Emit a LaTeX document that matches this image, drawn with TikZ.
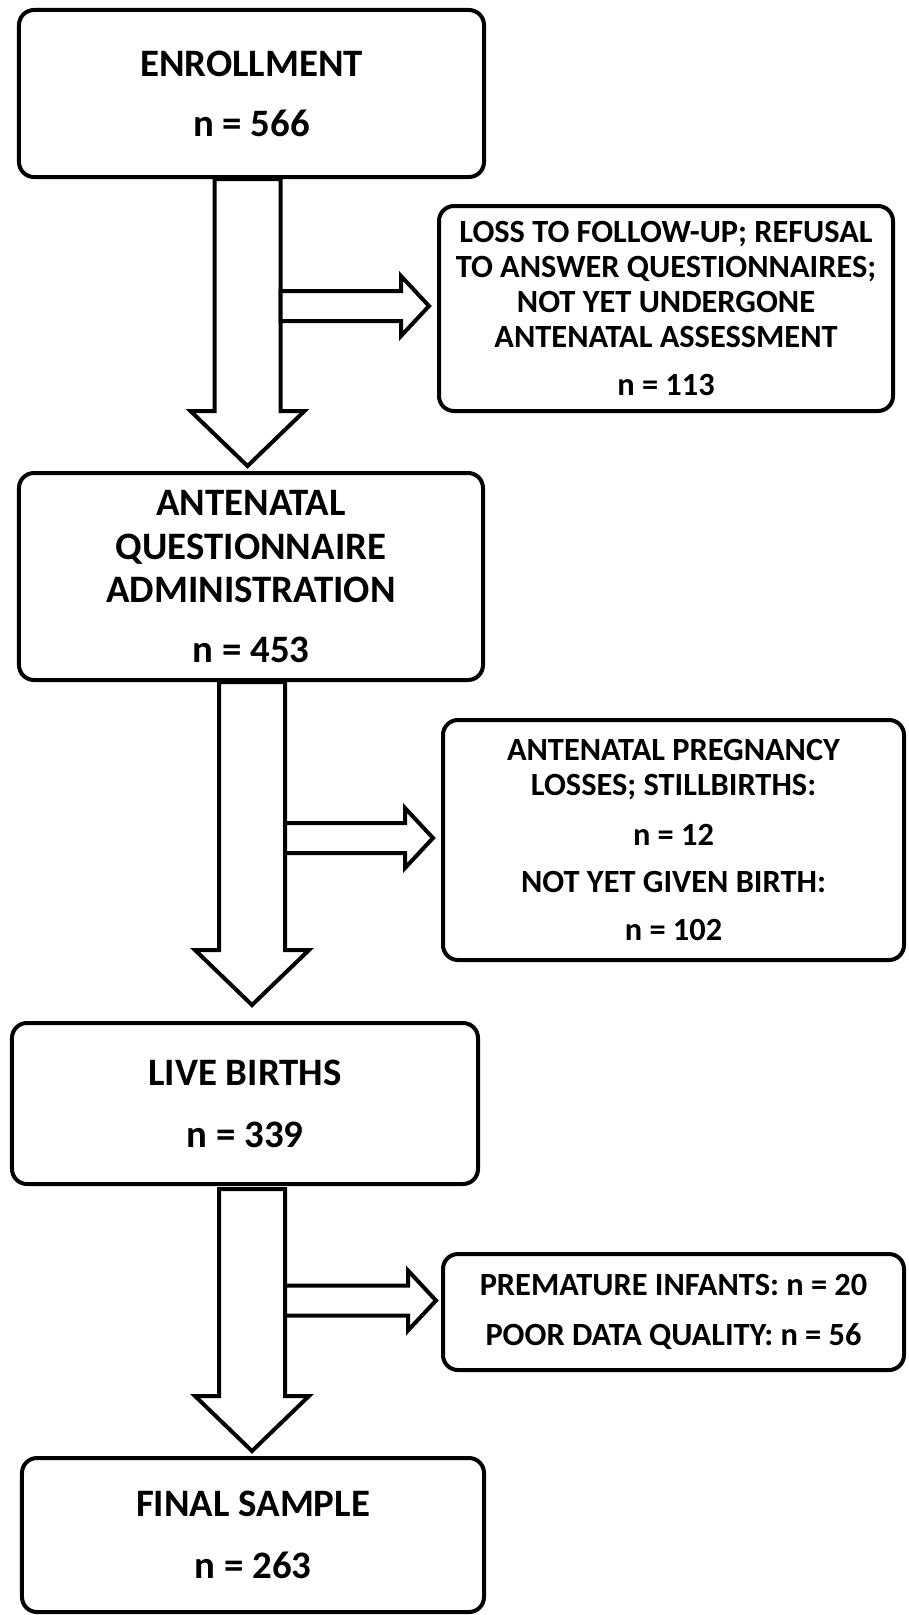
\documentclass[tikz,border=0pt]{standalone}
\usepackage{fontspec}
\setmainfont{Carlito}
\usepackage{tikz}
\usetikzlibrary{calc}

\begin{document}
\begin{tikzpicture}[
    x=1bp, y=-1bp,
    line width=4bp,
    stage/.style={draw,
        rounded corners=15bp,
        align=center,
        inner sep=0pt,
        font=\bfseries\fontsize{39}{43.5}\selectfont},
    exclusion/.style={stage,
        font=\bfseries\fontsize{32.5}{35}\selectfont},
    blockdown/.style={fill=white,
        to path={($(\tikztostart)+(-33,0)$) -- ($(\tikztostart)+(33,0)$)
            -- ($(\tikztostart |- \tikztotarget)+(33,-55)$)
            -- ($(\tikztostart |- \tikztotarget)+(57,-55)$)
            -- (\tikztostart |- \tikztotarget)
            -- ($(\tikztostart |- \tikztotarget)+(-57,-55)$)
            -- ($(\tikztostart |- \tikztotarget)+(-33,-55)$) -- cycle}},
    blockright/.style={fill=white,
        to path={($(\tikztostart)+(0,-15)$)
            -- ($(\tikztotarget |- \tikztostart)+(-28,-15)$)
            -- ($(\tikztotarget |- \tikztostart)+(-28,-30)$)
            -- (\tikztotarget |- \tikztostart)
            -- ($(\tikztotarget |- \tikztostart)+(-28,30)$)
            -- ($(\tikztotarget |- \tikztostart)+(-28,15)$)
            -- ($(\tikztostart)+(0,15)$) -- cycle}}]

\useasboundingbox (0,0) rectangle (908,1615);

% Main stages
\node[stage,
    minimum width=465bp,
    minimum height=167bp] (enroll) at (251.5,93.5)
    {ENROLLMENT\\[16.5bp]n = 566};

\node[stage,
    minimum width=464bp,
    minimum height=207bp] (antenatal) at (251,576.5)
    {ANTENATAL\\QUESTIONNAIRE\\ADMINISTRATION\\[16.5bp]n = 453};

\node[stage,
    minimum width=466bp,
    minimum height=161bp] (live) at (245,1103.5)
    {LIVE BIRTHS\\[18.5bp]n = 339};

\node[stage,
    minimum width=462bp,
    minimum height=154bp] (final) at (253,1535)
    {FINAL SAMPLE\\[18.5bp]n = 263};

% Exclusions
\node[exclusion,
    minimum width=454bp,
    minimum height=205bp] (lost) at (666,308.5)
    {LOSS TO FOLLOW-UP; REFUSAL\\TO ANSWER QUESTIONNAIRES;\\NOT YET UNDERGONE\\ANTENATAL ASSESSMENT\\[13bp]n = 113};

\node[exclusion,
    minimum width=461bp,
    minimum height=240bp] (losses) at (673.5,840)
    {ANTENATAL PREGNANCY\\LOSSES; STILLBIRTHS:\\[15bp]n = 12\\[13bp]NOT YET GIVEN BIRTH:\\[13bp]n = 102};

\node[exclusion,
    minimum width=461bp,
    minimum height=116bp] (excluded) at (673.5,1312)
    {PREMATURE INFANTS: n = 20\\[15bp]POOR DATA QUALITY: n = 56};

% Enrollment to questionnaire
\draw[blockdown] ($(enroll.south)+(-4,0)$) to ($(antenatal.north)+(0,-5)$);
\draw[blockright] ($(enroll.south)+(29,127)$) to ($(lost.west)+(-8,0)$);

% Questionnaire to live births
\draw[blockdown] ($(antenatal.south)+(1,0)$) to ($(live.north)+(0,-16)$);
\draw[blockright] ($(antenatal.south)+(34,156)$) to ($(losses.west)+(-8,0)$);

% Live births to final sample
\draw[blockdown] ($(live.south)+(7,3)$) to ($(final.north)+(0,-5)$);
\draw[blockright] ($(live.south)+(40,114.5)$) to ($(excluded.west)+(-5,0)$);

\end{tikzpicture}
\end{document}
